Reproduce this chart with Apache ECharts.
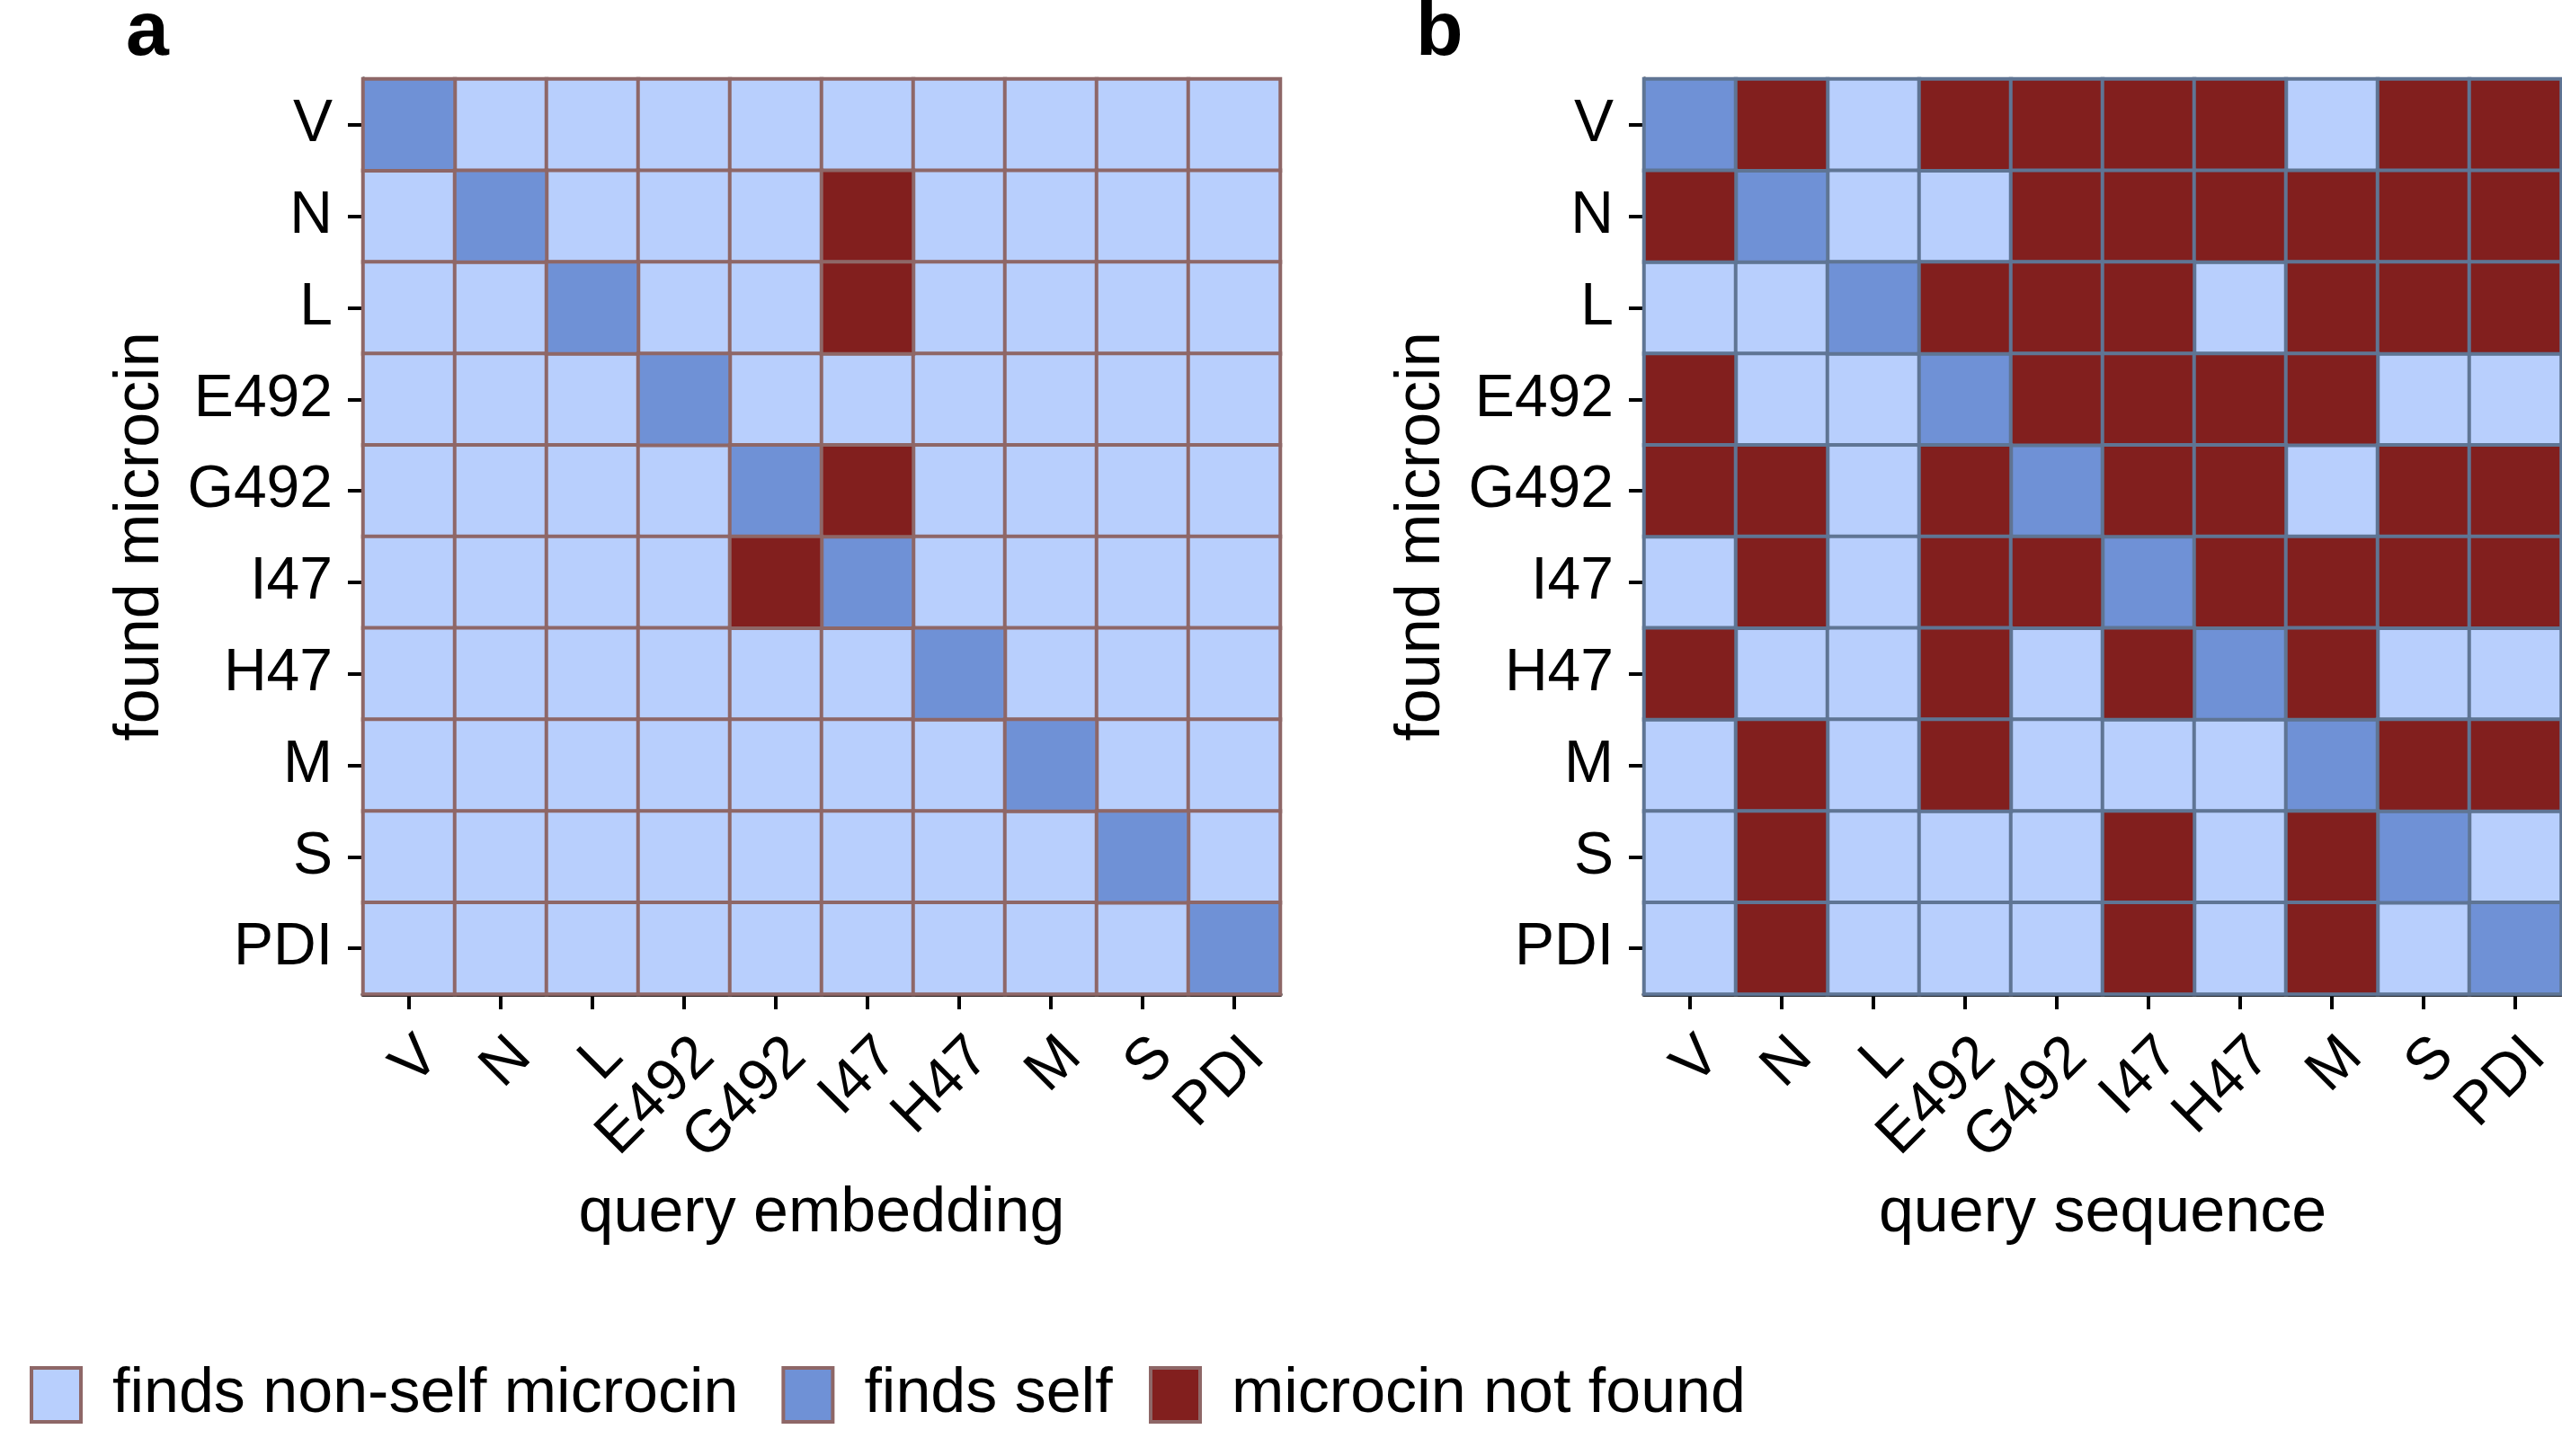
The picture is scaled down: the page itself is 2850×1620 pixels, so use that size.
<!DOCTYPE html>
<html>
<head>
<meta charset="utf-8">
<script src="https://cdn.jsdelivr.net/npm/echarts@6/dist/echarts.min.js"></script>
<style>
html,body{margin:0;padding:0;background:#fff;}
#chart{width:2850px;height:1620px;}
</style>
</head>
<body>
<div id="chart"></div>
<script>
// ---- data ----
const categories = ['V','N','L','E492','G492','I47','H47','M','S','PDI'];
const statusNames = ['finds non-self microcin','finds self','microcin not found'];
// 0 = finds non-self, 1 = finds self, 2 = not found ; rows = found microcin, cols = query
const embeddingMatrix = [
  [1,0,0,0,0,0,0,0,0,0],
  [0,1,0,0,0,2,0,0,0,0],
  [0,0,1,0,0,2,0,0,0,0],
  [0,0,0,1,0,0,0,0,0,0],
  [0,0,0,0,1,2,0,0,0,0],
  [0,0,0,0,2,1,0,0,0,0],
  [0,0,0,0,0,0,1,0,0,0],
  [0,0,0,0,0,0,0,1,0,0],
  [0,0,0,0,0,0,0,0,1,0],
  [0,0,0,0,0,0,0,0,0,1]
];
const sequenceMatrix = [
  [1,2,0,2,2,2,2,0,2,2],
  [2,1,0,0,2,2,2,2,2,2],
  [0,0,1,2,2,2,0,2,2,2],
  [2,0,0,1,2,2,2,2,0,0],
  [2,2,0,2,1,2,2,0,2,2],
  [0,2,0,2,2,1,2,2,2,2],
  [2,0,0,2,0,2,1,2,0,0],
  [0,2,0,2,0,0,0,1,2,2],
  [0,2,0,0,0,2,0,2,1,0],
  [0,2,0,0,0,2,0,2,0,1]
];
const panelLabels = ['a','b'];
const xTitles = ['query embedding','query sequence'];
const yTitle = 'found microcin';

// ---- styling ----
const FONT = '"Liberation Sans", Arial, Helvetica, sans-serif';
const fillColors = ['#b8cffd','#6f91d6','#821f1e'];
const borderColors = ['#8e6767','#5f7594'];
const gridLefts = [404, 1829];
const GRID_TOP = 88, GRID_W = 1020, GRID_H = 1018;

const chart = echarts.init(document.getElementById('chart'), null, {renderer:'canvas'});

const grids = [], xAxes = [], yAxes = [], series = [];
[embeddingMatrix, sequenceMatrix].forEach((mat, p) => {
  grids.push({left: gridLefts[p], top: GRID_TOP, width: GRID_W, height: GRID_H, containLabel:false});
  xAxes.push({
    type:'category', gridIndex:p, data:categories,
    name:xTitles[p], nameLocation:'middle', nameGap:210,
    nameTextStyle:{fontFamily:FONT, fontSize:70, color:'#000'},
    axisLine:{show:true, lineStyle:{color:'#000', width:5}},
    axisTick:{show:true, alignWithLabel:true, length:17, lineStyle:{color:'#000', width:4}},
    axisLabel:{rotate:45, margin:36, verticalAlign:'top', align:'right', fontFamily:FONT, fontSize:66, color:'#000', interval:0},
    splitLine:{show:false}
  });
  yAxes.push({
    type:'category', gridIndex:p, data:categories, inverse:true,
    name:yTitle, nameLocation:'middle', nameGap:212, nameRotate:90,
    nameTextStyle:{fontFamily:FONT, fontSize:70, color:'#000'},
    axisLine:{show:true, lineStyle:{color:'#000', width:5}},
    axisTick:{show:true, alignWithLabel:true, length:17, lineStyle:{color:'#000', width:4}},
    axisLabel:{margin:34, fontFamily:FONT, fontSize:66, color:'#000', interval:0},
    splitLine:{show:false}
  });
  for (let s = 0; s < 3; s++) {
    const data = [];
    mat.forEach((row, r) => row.forEach((v, c) => { if (v === s) data.push([c, r, v]); }));
    series.push({
      type:'heatmap', name:statusNames[s], xAxisIndex:p, yAxisIndex:p, data:data,
      itemStyle:{color:fillColors[s], borderColor:borderColors[p], borderWidth:4},
      emphasis:{disabled:true}, label:{show:false}, silent:true, z:1
    });
  }
});

const legendBase = {
  top:1512, orient:'horizontal',
  itemWidth:55, itemHeight:60, itemGap:48, selectedMode:false,
  icon:'rect',
  itemStyle:{borderColor:'#8e6767', borderWidth:4},
  textStyle:{fontFamily:FONT, fontSize:70, color:'#000', padding:[0,0,0,30]}
};

const option = {
  backgroundColor:'#fff',
  animation:false,
  grid:grids, xAxis:xAxes, yAxis:yAxes, series:series,
  legend:[
    Object.assign({}, legendBase, {data:statusNames.slice(0,2), left:28}),
    Object.assign({}, legendBase, {data:statusNames.slice(2), left:1273})
  ],
  graphic:[
    {type:'text', left:140, top:-6, style:{text:panelLabels[0], font:'bold 86px ' + FONT, fill:'#000'}},
    {type:'text', left:1575, top:-6, style:{text:panelLabels[1], font:'bold 86px ' + FONT, fill:'#000'}}
  ]
};
chart.setOption(option);
</script>
</body>
</html>
